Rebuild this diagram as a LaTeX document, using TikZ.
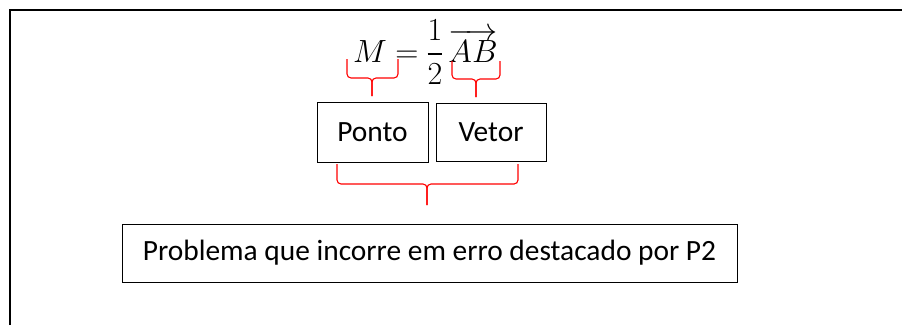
\documentclass[tikz,border=0pt]{standalone}
\usepackage{amsmath}
\usepackage{graphicx}
\usepackage{fontspec}
\setmainfont{Carlito}
\newcommand{\eqscaled}[1]{\scalebox{1.29}{$#1$}}
\begin{document}
\begin{tikzpicture}[x=1pt,y=-1pt,
  box/.style={draw=black,line width=0.9pt,inner sep=0pt,font=\fontsize{29.4}{34}\selectfont},
  mth/.style={anchor=base,inner sep=0pt,font=\fontsize{24.88}{30}\selectfont},
  brace/.style={draw=red,line width=1.1pt,rounded corners=4pt}]
\useasboundingbox (0,0) rectangle (902,325);
\draw[line width=2pt] (10,325) -- (10,10) -- (902,10);
\node[mth] (m) at (370,62) {\eqscaled{M}};
\node[mth] (eqs) at (407,62) {\eqscaled{=}};
\node[mth] (frac) at (435,62) {\eqscaled{\displaystyle\frac{1}{2}}};
\node[mth] (ab) at (473,62) {\eqscaled{\overrightarrow{AB}}};
\node[box,minimum width=111pt,minimum height=60pt] (ponto) at (372.5,132) {Ponto};
\node[box,minimum width=110pt,minimum height=58pt] (vetor) at (491,132) {Vetor};
\node[box,minimum width=615pt,minimum height=58pt] (prob) at (429.5,253) {Problema que incorre em erro destacado por P2};
% braces
\draw[brace] (347,59) -- (347,78) -- (372,78) -- (372,96);
\draw[brace] (398,59) -- (398,78) -- (372,78) -- (372,96);
\draw[brace] (452,61) -- (452,79) -- (476,79) -- (476,97);
\draw[brace] (500,61) -- (500,79) -- (476,79) -- (476,97);
\draw[brace] (337,164) -- (337,184) -- (427,184) -- (427,205);
\draw[brace] (518,164) -- (518,184) -- (427,184) -- (427,205);
\end{tikzpicture}
\end{document}
